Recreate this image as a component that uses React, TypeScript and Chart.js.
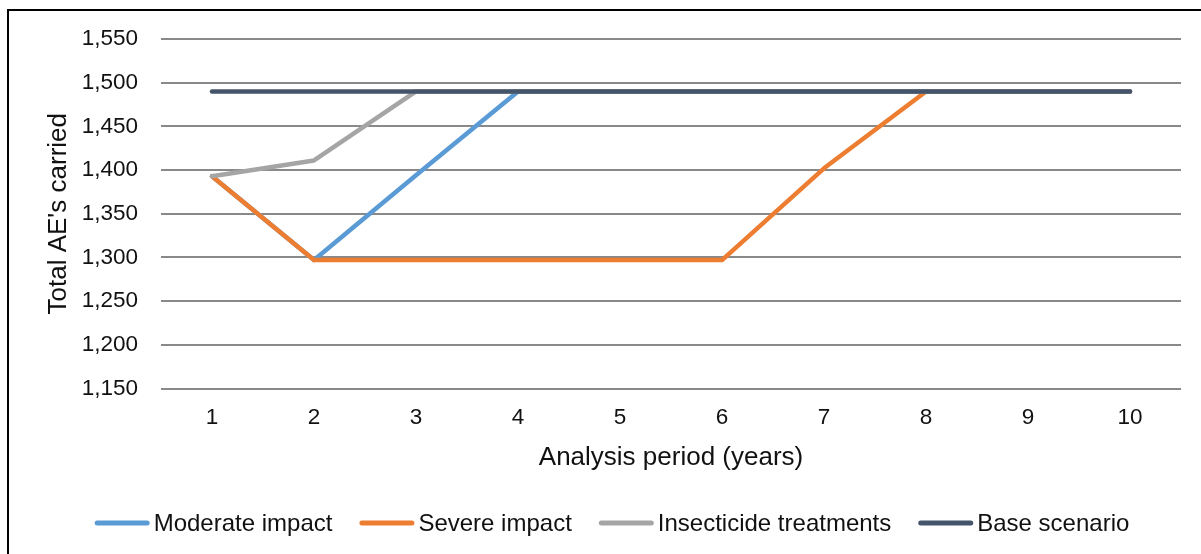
import React, { useEffect, useRef } from "react";
import { Chart, registerables } from "chart.js";

Chart.register(...registerables);

const categories = ["1", "2", "3", "4", "5", "6", "7", "8", "9", "10"];
const moderateImpact = [1393, 1297, 1394, 1490, 1490, 1490, 1490, 1490, 1490, 1490];
const severeImpact = [1393, 1297, 1297, 1297, 1297, 1297, 1402, 1490, 1490, 1490];
const insecticideTreatments = [1393, 1411, 1490, 1490, 1490, 1490, 1490, 1490, 1490, 1490];
const baseScenario = [1490, 1490, 1490, 1490, 1490, 1490, 1490, 1490, 1490, 1490];
const seriesNames = ["Moderate impact", "Severe impact", "Insecticide treatments", "Base scenario"];
const seriesColors = ["#5B9BD5", "#ED7D31", "#A5A5A5", "#44546A"];
const yMin = 1150;
const yMax = 1550;
const yStep = 50;
const xTitle = "Analysis period (years)";
const yTitle = "Total AE's carried";

const FONT = "'Liberation Sans', Arial, sans-serif";

const legendPlugin = {
  id: "customLegend",
  afterDraw(chart: any) {
    const ctx = chart.ctx;
    ctx.save();
    ctx.font = `24px ${FONT}`;
    const lineLen = 55;
    const gapText = 4;
    const gapItem = 27;
    const items = chart.data.datasets.map((d: any) => ({
      label: d.label,
      color: d.borderColor,
      w: ctx.measureText(d.label).width,
    }));
    const total =
      items.reduce((s: number, it: any) => s + lineLen + gapText + it.w, 0) +
      gapItem * (items.length - 1);
    let x = 612 - total / 2;
    const y = 523;
    for (const it of items) {
      ctx.strokeStyle = it.color;
      ctx.lineWidth = 5;
      ctx.lineCap = "round";
      ctx.beginPath();
      ctx.moveTo(x + 2.5, y);
      ctx.lineTo(x + lineLen - 2.5, y);
      ctx.stroke();
      ctx.fillStyle = "#111";
      ctx.textAlign = "left";
      ctx.textBaseline = "middle";
      ctx.fillText(it.label, x + lineLen + gapText, y + 1);
      x += lineLen + gapText + it.w + gapItem;
    }
    ctx.restore();
  },
};

export default function App() {
  const ref = useRef<HTMLCanvasElement | null>(null);
  useEffect(() => {
    if (!ref.current) return;
    const values = [moderateImpact, severeImpact, insecticideTreatments, baseScenario];
    const orders = [3, 2, 1, 0];
    const chart = new Chart(ref.current, {
      type: "line",
      data: {
        labels: categories,
        datasets: values.map((v, i) => ({
          label: seriesNames[i],
          data: v,
          borderColor: seriesColors[i],
          backgroundColor: seriesColors[i],
          borderWidth: 4.5,
          borderCapStyle: "round",
          borderJoinStyle: "round",
          pointRadius: 0,
          pointHoverRadius: 0,
          tension: 0,
          fill: false,
          order: orders[i],
        })),
      },
      options: {
        responsive: false,
        animation: false,
        layout: { padding: { left: 0, right: 20, top: 39, bottom: 0 } },
        plugins: {
          legend: { display: false },
          tooltip: { enabled: false },
          title: { display: false },
        },
        scales: {
          x: {
            offset: true,
            grid: { display: false, drawTicks: false },
            border: { display: false },
            ticks: {
              color: "#111",
              font: { family: FONT, size: 22.5 },
              padding: 16,
              maxRotation: 0,
            },
            title: {
              display: true,
              text: xTitle,
              color: "#111",
              font: { family: FONT, size: 26 },
              padding: { top: 0, bottom: 81 },
            },
            afterFit: (s: any) => {
              s.height = 165.5;
            },
          },
          y: {
            min: yMin,
            max: yMax,
            grid: { color: "#898989", lineWidth: 2, drawTicks: false },
            border: { display: false },
            ticks: {
              stepSize: yStep,
              color: "#111",
              font: { family: FONT, size: 22.5 },
              padding: 23,
              callback: (v: any) => Number(v).toLocaleString("en-US"),
            },
            title: {
              display: true,
              text: yTitle,
              color: "#111",
              font: { family: FONT, size: 26 },
              padding: { top: 43, bottom: 0 },
            },
            afterFit: (s: any) => {
              s.width = 161;
            },
          },
        },
      },
      plugins: [legendPlugin],
    } as any);
    return () => chart.destroy();
  }, []);

  return (
    <>
      <div
        style={{
          position: "fixed",
          left: 7,
          top: 9,
          width: 1240,
          height: 600,
          border: "2px solid #000",
          boxSizing: "border-box",
          background: "#fff",
        }}
      />
      <canvas
        ref={ref}
        width={1201}
        height={554}
        style={{ position: "fixed", left: 0, top: 0, width: 1201, height: 554 }}
      />
    </>
  );
}
